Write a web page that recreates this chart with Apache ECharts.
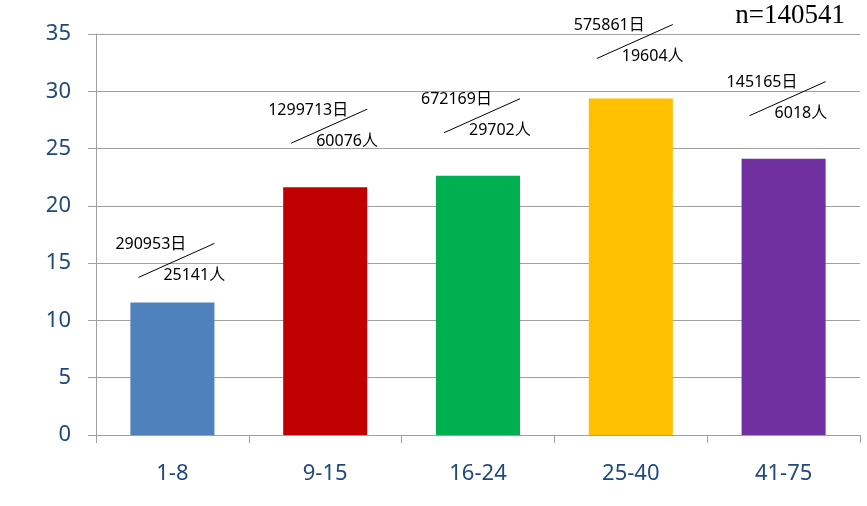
<!DOCTYPE html>
<html>
<head>
<meta charset="utf-8">
<script src="https://cdn.jsdelivr.net/npm/echarts@6/dist/echarts.min.js"></script>
<style>
  html, body { margin: 0; padding: 0; background: #fff; }
  #chart { width: 867px; height: 506px; }
</style>
</head>
<body>
<div id="chart"></div>
<script>
// age groups and mean days per person
const categories = ['1-8', '9-15', '16-24', '25-40', '41-75']
const values = [11.57, 21.63, 22.63, 29.37, 24.12]
const days = ['290953日', '1299713日', '672169日', '575861日', '145165日']
const persons = ['25141人', '60076人', '29702人', '19604人', '6018人']
const yTicks = [0, 5, 10, 15, 20, 25, 30, 35]
const totalN = 'n=140541'

const barColors = ['#4F81BD', '#C00000', '#00B050', '#FFC000', '#7030A0']
// how far above each bar the annotation sits (px)
const lift = [25, 44, 43, 40, 43]

const chart = echarts.init(document.getElementById('chart'))

chart.setOption({
  animation: false,
  grid: {
    left: 96,
    right: 7,
    top: 34,
    bottom: 71
  },
  graphic: [{
    type: 'text',
    right: 22,
    top: 2,
    style: {
      text: totalN,
      font: '27px "Liberation Serif", serif',
      fill: '#000'
    }
  }],
  xAxis: {
    type: 'category',
    data: categories,
    axisLine: { lineStyle: { color: '#a0a0a0', width: 1 } },
    axisTick: { show: true, length: 8, lineStyle: { color: '#a0a0a0' } },
    axisLabel: {
      color: '#1F497D',
      fontSize: 22,
      fontFamily: 'Noto Sans',
      margin: 28
    }
  },
  yAxis: {
    type: 'value',
    min: yTicks[0],
    max: yTicks[yTicks.length - 1],
    interval: 5,
    axisLine: { show: true, lineStyle: { color: '#a0a0a0' } },
    axisTick: { show: true, length: 8, lineStyle: { color: '#a0a0a0' } },
    splitLine: { lineStyle: { color: '#a0a0a0' } },
    axisLabel: {
      color: '#1F497D',
      fontSize: 22,
      fontFamily: 'Noto Sans',
      margin: 25
    }
  },
  series: [{
    type: 'bar',
    barWidth: '55%',
    data: values.map((v, i) => ({ value: v, itemStyle: { color: barColors[i] } }))
  }, {
    type: 'custom',
    silent: true,
    z: 5,
    data: values.map((v, i) => [i, v]),
    renderItem(params, api) {
      const i = params.dataIndex
      const p = api.coord([api.value(0), api.value(1)])
      const cx = p[0]
      const base = p[1] - lift[i]
      const font = '16px "Noto Sans", "Noto Sans CJK SC", sans-serif'
      return {
        type: 'group',
        children: [{
          type: 'line',
          shape: { x1: cx - 34, y1: base, x2: cx + 42, y2: base - 34 },
          style: { stroke: '#000', lineWidth: 1 }
        }, {
          type: 'text',
          style: {
            x: cx - 57, y: base - 33,
            text: days[i], font: font, fill: '#000',
            textAlign: 'left', textVerticalAlign: 'middle'
          }
        }, {
          type: 'text',
          style: {
            x: cx - 9, y: base - 2,
            text: persons[i], font: font, fill: '#000',
            textAlign: 'left', textVerticalAlign: 'middle'
          }
        }]
      }
    }
  }]
})
</script>
</body>
</html>
